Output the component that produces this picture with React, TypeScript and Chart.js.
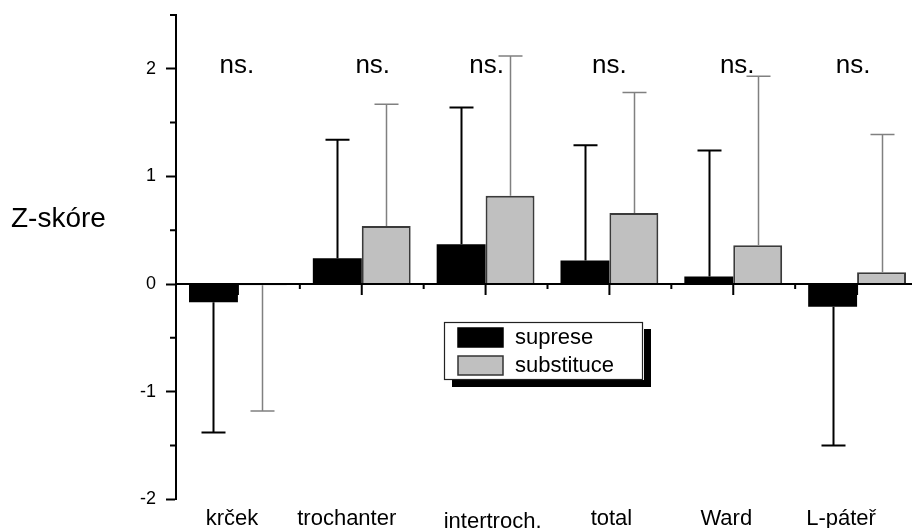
import React, { useEffect, useRef } from 'react';
import { Chart, registerables } from 'chart.js';

Chart.register(...registerables);

// ---- data ----
const categories = ['krček', 'trochanter', 'intertroch.', 'total', 'Ward', 'L-páteř'];
const seriesNames = ['suprese', 'substituce'];
const supreseMean = [-0.17, 0.24, 0.37, 0.22, 0.07, -0.21];
const supreseSD = [1.21, 1.1, 1.27, 1.07, 1.17, 1.29];
const substituceMean = [-0.01, 0.54, 0.82, 0.66, 0.36, 0.11];
const substituceSD = [1.17, 1.13, 1.3, 1.12, 1.57, 1.28];
const significance = ['ns.', 'ns.', 'ns.', 'ns.', 'ns.', 'ns.'];
const yTitle = 'Z-skóre';
const yMin = -2;
const yMax = 2.5;

const FONT = '"Liberation Sans", Arial, Helvetica, sans-serif';

// hand-placement nudges of the original annotations (px)
const labelNudgeX = [-6, -15, 7, 2, -7, -16];
const labelNudgeY = [0, 0, 3, 0, 0, 0];
const sigNudgeX = [-1, 11, 1, 0, 4, -4];

const decorPlugin = {
  id: 'decor',
  afterDatasetsDraw(chart: any) {
    const ctx = chart.ctx as CanvasRenderingContext2D;
    const xs = chart.scales.x;
    const ys = chart.scales.y;
    const area = chart.chartArea;
    const sds = [supreseSD, substituceSD];
    const errColors = ['#000000', '#808080'];
    const errWidths = [2, 1.5];
    ctx.save();
    ctx.lineCap = 'butt';

    // error bars (one-sided, away from zero)
    chart.data.datasets.forEach((ds: any, di: number) => {
      const meta = chart.getDatasetMeta(di);
      meta.data.forEach((bar: any, j: number) => {
        const m = ds.data[j] as number;
        const sd = sds[di][j];
        const end = m >= 0 ? m + sd : m - sd;
        const px = Math.round(bar.x) + 0.5;
        const p0 = ys.getPixelForValue(m);
        const p1 = ys.getPixelForValue(end);
        ctx.strokeStyle = errColors[di];
        ctx.lineWidth = errWidths[di];
        ctx.beginPath();
        ctx.moveTo(px, p0);
        ctx.lineTo(px, p1);
        ctx.moveTo(px - 12, p1);
        ctx.lineTo(px + 12, p1);
        ctx.stroke();
      });
    });

    // zero line with category ticks
    const y0 = ys.getPixelForValue(0);
    ctx.strokeStyle = '#000';
    ctx.lineWidth = 2;
    ctx.beginPath();
    ctx.moveTo(area.left, y0);
    ctx.lineTo(area.right, y0);
    ctx.stroke();
    const half = (xs.getPixelForValue(1) - xs.getPixelForValue(0)) / 2;
    ctx.beginPath();
    categories.forEach((_c, i) => {
      const cx = xs.getPixelForValue(i);
      ctx.moveTo(cx, y0);
      ctx.lineTo(cx, y0 + 11);
      ctx.moveTo(cx + half, y0);
      ctx.lineTo(cx + half, y0 + 5);
    });
    ctx.stroke();

    // minor y ticks
    ctx.beginPath();
    for (let v = yMin + 0.5; v <= yMax + 1e-9; v += 1) {
      const py = ys.getPixelForValue(v);
      ctx.moveTo(area.left - 6, py);
      ctx.lineTo(area.left, py);
    }
    ctx.stroke();

    // category labels
    ctx.fillStyle = '#000';
    ctx.font = `22px ${FONT}`;
    ctx.textAlign = 'center';
    ctx.textBaseline = 'alphabetic';
    categories.forEach((c, i) => {
      ctx.fillText(c, xs.getPixelForValue(i) + labelNudgeX[i], area.bottom + 25.5 + labelNudgeY[i]);
    });

    // significance labels
    ctx.font = `26px ${FONT}`;
    significance.forEach((s, i) => {
      ctx.fillText(s, xs.getPixelForValue(i) + sigNudgeX[i], ys.getPixelForValue(2) + 4);
    });

    // y title (horizontal)
    ctx.font = `28px ${FONT}`;
    ctx.textAlign = 'left';
    ctx.fillText(yTitle, 11, ys.getPixelForValue(0.53));

    // legend box with shadow
    const lx = 444, ly = 322, lw = 198, lh = 57;
    ctx.fillStyle = '#000';
    ctx.fillRect(lx + 8, ly + 7, lw + 1, lh + 1);
    ctx.fillStyle = '#fff';
    ctx.fillRect(lx - 1, ly - 1, lw + 3, lh + 2);
    ctx.strokeStyle = '#222';
    ctx.lineWidth = 1.2;
    ctx.strokeRect(lx + 0.5, ly + 0.5, lw, lh);
    const sw = [
      { fill: '#000000', stroke: '#000000', y: ly + 6 },
      { fill: '#c0c0c0', stroke: '#333333', y: ly + 34 },
    ];
    ctx.font = `22px ${FONT}`;
    ctx.textBaseline = 'middle';
    sw.forEach((s, i) => {
      ctx.fillStyle = s.fill;
      ctx.fillRect(lx + 14, s.y, 45, 19);
      ctx.strokeStyle = s.stroke;
      ctx.lineWidth = 1.5;
      ctx.strokeRect(lx + 14, s.y, 45, 19);
      ctx.fillStyle = '#000';
      ctx.fillText(seriesNames[i], lx + 71, s.y + 10);
    });

    ctx.restore();
  },
};

export default function App() {
  const ref = useRef<HTMLCanvasElement | null>(null);
  useEffect(() => {
    if (!ref.current) return;
    const chart = new Chart(ref.current, {
      type: 'bar',
      data: {
        labels: categories,
        datasets: [
          {
            label: seriesNames[0],
            data: supreseMean,
            backgroundColor: '#000000',
            borderColor: '#000000',
            borderWidth: 0,
            categoryPercentage: 0.79,
            barPercentage: 1.0,
          },
          {
            label: seriesNames[1],
            data: substituceMean,
            backgroundColor: '#c0c0c0',
            borderColor: '#3a3a3a',
            borderWidth: 2,
            categoryPercentage: 0.79,
            barPercentage: 1.0,
          },
        ],
      },
      options: {
        animation: false,
        responsive: false,
        devicePixelRatio: 1,
        layout: { padding: { top: 15, right: 21, left: 0, bottom: 0 } },
        plugins: {
          legend: { display: false },
          tooltip: { enabled: false },
        },
        scales: {
          x: {
            type: 'category',
            position: 'bottom',
            border: { display: false },
            grid: { display: false, drawTicks: false },
            ticks: { display: false },
            afterFit: (scale: any) => {
              scale.height = 28.7;
              scale.paddingLeft = 0;
              scale.paddingRight = 0;
            },
          },
          y: {
            type: 'linear',
            min: yMin,
            max: yMax,
            border: { display: true, color: '#000', width: 2 },
            grid: {
              drawOnChartArea: false,
              drawTicks: true,
              tickLength: 10,
              tickWidth: 2,
              tickColor: (c: any) =>
                c.tick && Number.isInteger(c.tick.value) ? '#000' : 'rgba(0,0,0,0)',
            },
            ticks: {
              stepSize: 0.5,
              color: '#000',
              font: { family: FONT, size: 18 },
              padding: 10,
              callback: (v: any) => (Number.isInteger(Number(v)) ? String(v) : ''),
            },
            afterFit: (scale: any) => {
              scale.width = 176;
              scale.paddingTop = 0;
              scale.paddingBottom = 0;
            },
          },
        },
      },
      plugins: [decorPlugin],
    });
    return () => chart.destroy();
  }, []);

  return (
    <div
      style={{
        position: 'absolute',
        left: 0,
        top: 0,
        width: 912,
        height: 528,
        overflow: 'hidden',
        background: '#fff',
      }}
    >
      <canvas ref={ref} width={940} height={528} style={{ display: 'block' }} />
    </div>
  );
}
